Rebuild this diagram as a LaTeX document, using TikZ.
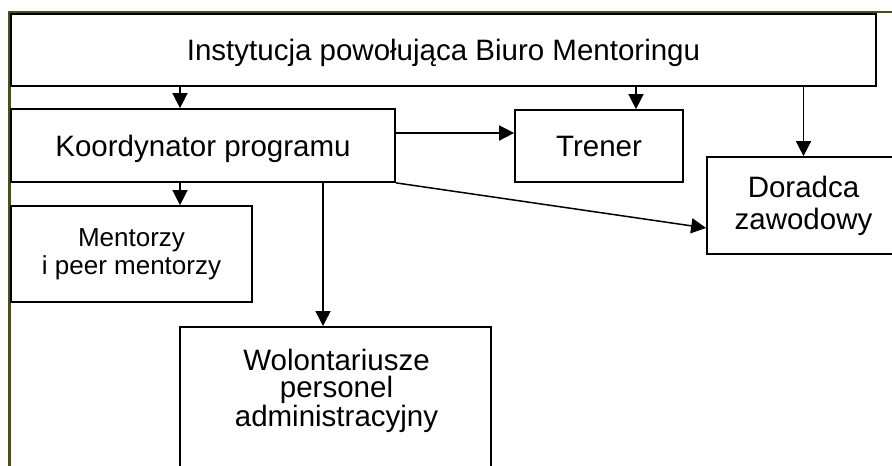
\documentclass[tikz,border=0pt]{standalone}
\usepackage{fontspec}
\setmainfont{Liberation Sans}
\usetikzlibrary{arrows.meta}
\definecolor{frameolive}{RGB}{78,78,28}
\tikzset{
  x=1pt, y=-1pt,
  box/.style={draw=black, line width=1.7pt, fill=white, inner sep=0pt, align=center},
  big/.style={font=\fontsize{29.5}{27}\selectfont},
  oneline/.style={text depth=0pt},
  arr/.style={line width=1.5pt, -{Triangle[length=15pt,width=15pt]}},
}
\begin{document}
\begin{tikzpicture}
\useasboundingbox (0,0) rectangle (892,466);
\clip (0,0) rectangle (892,466);
% outer frame
\draw[frameolive, line width=2.6pt] (9.5,480) -- (9.5,11.8) -- (900,11.8);
% boxes
\node[box, big, oneline, minimum width=865, minimum height=72] (top) at (443.5,50) {Instytucja powołująca Biuro Mentoringu};
\node[box, big, oneline, minimum width=384, minimum height=73] (koord) at (203,145.5) {Koordynator programu};
\node[box, big, oneline, minimum width=168, minimum height=72] (tren) at (599,146) {Trener};
\node[box, font=\fontsize{29.5}{32}\selectfont, minimum width=193, minimum height=97] (dor) at (803.5,205.5) {Doradca\\zawodowy};
\node[box, font=\fontsize{26}{28}\selectfont, minimum width=241, minimum height=96] (ment) at (131.5,254) {Mentorzy\\i peer mentorzy};
\node[box, minimum width=311, minimum height=200, anchor=north] (wolbox) at (335.5,326) {};
\node[big, align=center, inner sep=0pt] (wol) at (336.5,391) {Wolontariusze\\personel\\administracyjny};
% helper x positions
\coordinate (xa) at (180,0);
\coordinate (xb) at (323,0);
\coordinate (xc) at (636,0);
% connectors
\draw[arr] (top.south -| xa) -- (koord.north -| xa);
\draw[arr] (top.south -| xc) -- (tren.north -| xc);
\draw[arr] (top.south -| dor.north) -- (dor.north);
\draw[arr] ([yshift=12.5pt]koord.east) -- ([yshift=12.5pt]koord.east -| tren.west);
\draw[arr] (koord.south east) -- ([yshift=-22.5pt]dor.west);
\draw[arr] (koord.south -| xa) -- (ment.north -| xa);
\draw[arr] (koord.south -| xb) -- (wolbox.north -| xb);
\end{tikzpicture}
\end{document}
